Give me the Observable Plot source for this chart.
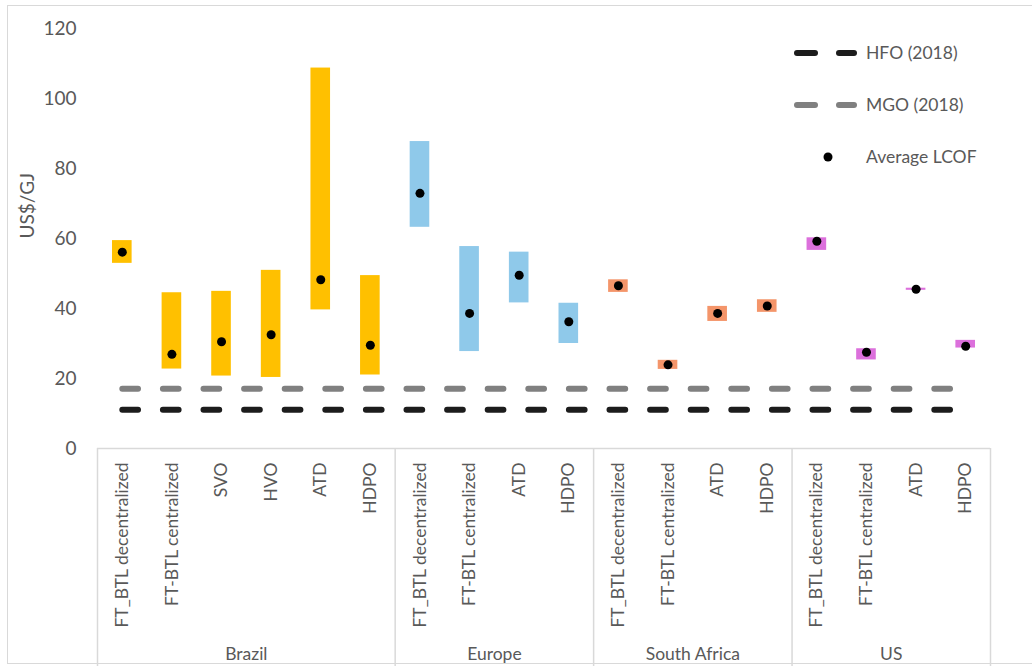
<!DOCTYPE html>
<html>
<head>
<meta charset="utf-8">
<script src="https://cdn.jsdelivr.net/npm/d3@7"></script>
<script src="https://cdn.jsdelivr.net/npm/@observablehq/plot@0.6"></script>
<style>
  html, body { margin: 0; padding: 0; background: #fff; }
  #wrap { position: relative; width: 1032px; height: 666px; overflow: hidden; font-family: Lato, "Open Sans", sans-serif; }
  #frame { position: absolute; left: 7px; top: 5px; width: 1040px; height: 659px; border: 1.5px solid #d9d9d9; box-sizing: border-box; }
  #chart { position: absolute; left: 0; top: 0; }
  #legend { position: absolute; left: 0; top: 0; pointer-events: none; }
</style>
</head>
<body>
<div id="wrap">
  <div id="frame"></div>
  <div id="chart"></div>
  <svg id="legend" width="1032" height="666"></svg>
</div>
<script>
// ---- data ----
const groups = ["Brazil", "Europe", "South Africa", "US"];
const categories = [
  "FT_BTL decentralized", "FT-BTL centralized", "SVO", "HVO", "ATD", "HDPO",
  "FT_BTL decentralized", "FT-BTL centralized", "ATD", "HDPO",
  "FT_BTL decentralized", "FT-BTL centralized", "ATD", "HDPO",
  "FT_BTL decentralized", "FT-BTL centralized", "ATD", "HDPO"
];
const categoryGroup = [
  "Brazil", "Brazil", "Brazil", "Brazil", "Brazil", "Brazil",
  "Europe", "Europe", "Europe", "Europe",
  "South Africa", "South Africa", "South Africa", "South Africa",
  "US", "US", "US", "US"
];
const minLCOF = [52.9, 22.7, 20.7, 20.3, 39.6, 21.0, 63.2, 27.7, 41.6, 30.0, 44.6, 22.6, 36.3, 38.9, 56.6, 25.3, 45.2, 28.7];
const maxLCOF = [59.4, 44.5, 44.9, 50.9, 108.7, 49.4, 87.7, 57.7, 56.1, 41.5, 48.2, 25.2, 40.6, 42.5, 60.2, 28.5, 45.8, 30.9];
const avgLCOF = [56.1, 26.9, 30.5, 32.5, 48.2, 29.5, 72.9, 38.6, 49.5, 36.2, 46.5, 23.9, 38.6, 40.7, 59.2, 27.5, 45.5, 29.2];
const hfo2018 = 11.1;
const mgo2018 = 17.1;
const yTicks = [0, 20, 40, 60, 80, 100, 120];
const legendLabels = ["HFO (2018)", "MGO (2018)", "Average LCOF"];
const yLabel = "US$/GJ";

// ---- styles ----
const groupColors = {"Brazil": "#FFC000", "Europe": "#8FC9EA", "South Africa": "#F4956A", "US": "#DC70DC"};
const textGray = "#595959";
const gridGray = "#d9d9d9";

// ---- derived tables ----
const rows = categories.map((name, i) => ({
  i, name, group: categoryGroup[i], lo: minLCOF[i], hi: maxLCOF[i], avg: avgLCOF[i]
}));
const groupRows = groups.map(g => {
  const idx = rows.filter(r => r.group === g).map(r => r.i);
  return {group: g, start: d3.min(idx), end: d3.max(idx) + 1};
});
const boundaries = [...groupRows.map(g => g.start), categories.length];
const centers = rows.map(r => r.i + 0.5);

const chart = Plot.plot({
  width: 1032,
  height: 666,
  marginLeft: 97,
  marginRight: 42,
  marginTop: 28,
  marginBottom: 218,
  style: {fontFamily: "Lato, 'Open Sans', sans-serif", color: textGray, background: "transparent"},
  x: {type: "linear", domain: [0, categories.length], axis: null},
  y: {domain: [0, 120], axis: null},
  marks: [
    Plot.axisY({ticks: yTicks, tickSize: 0, tickPadding: 21, fontSize: 19, label: null, fill: textGray}),
    Plot.text([yLabel], {frameAnchor: "left", dx: -70, rotate: -90, fontSize: 19, fill: textGray}),
    Plot.ruleY([0], {stroke: gridGray, strokeWidth: 1.5}),
    Plot.ruleX(boundaries, {x: d => d, stroke: gridGray, strokeWidth: 1.5, insetTop: 420, insetBottom: -218}),
    Plot.rectY(rows, {x1: d => d.i, x2: d => d.i + 1, y1: "lo", y2: "hi", fill: d => groupColors[d.group], insetLeft: 15, insetRight: 15}),
    Plot.line(centers, {x: d => d, y: () => mgo2018, stroke: "#808080", strokeWidth: 6, strokeDasharray: "15.7,24.9", strokeLinecap: "round"}),
    Plot.line(centers, {x: d => d, y: () => hfo2018, stroke: "#1c1c1c", strokeWidth: 6, strokeDasharray: "15.7,24.9", strokeLinecap: "round"}),
    Plot.dot(rows, {x: d => d.i + 0.5, y: "avg", r: 4.5, fill: "black", stroke: "none"}),
    Plot.text(rows, {x: d => d.i + 0.5, y: () => 0, text: "name", rotate: -90, textAnchor: "end", dy: 14, fontSize: 17.5, fill: textGray}),
    Plot.text(groupRows, {x: d => (d.start + d.end) / 2, y: () => 0, text: "group", dy: 206, fontSize: 17.5, fill: textGray})
  ]
});
document.getElementById("chart").appendChild(chart);

// ---- legend ----
const lg = d3.select("#legend");
const items = [
  {label: legendLabels[0], type: "dash", color: "#1c1c1c", y: 53},
  {label: legendLabels[1], type: "dash", color: "#808080", y: 105},
  {label: legendLabels[2], type: "dot", color: "black", y: 157}
];
items.forEach(it => {
  if (it.type === "dash") {
    lg.append("line").attr("x1", 797).attr("x2", 815).attr("y1", it.y).attr("y2", it.y)
      .attr("stroke", it.color).attr("stroke-width", 6).attr("stroke-linecap", "round");
    lg.append("line").attr("x1", 839).attr("x2", 854).attr("y1", it.y).attr("y2", it.y)
      .attr("stroke", it.color).attr("stroke-width", 6).attr("stroke-linecap", "round");
  } else {
    lg.append("circle").attr("cx", 828).attr("cy", it.y).attr("r", 4.5).attr("fill", it.color);
  }
  lg.append("text").attr("x", 866).attr("y", it.y).attr("dy", "0.35em")
    .attr("fill", textGray).attr("font-size", 17.5)
    .attr("font-family", "Lato, 'Open Sans', sans-serif").text(it.label);
});
</script>
</body>
</html>
